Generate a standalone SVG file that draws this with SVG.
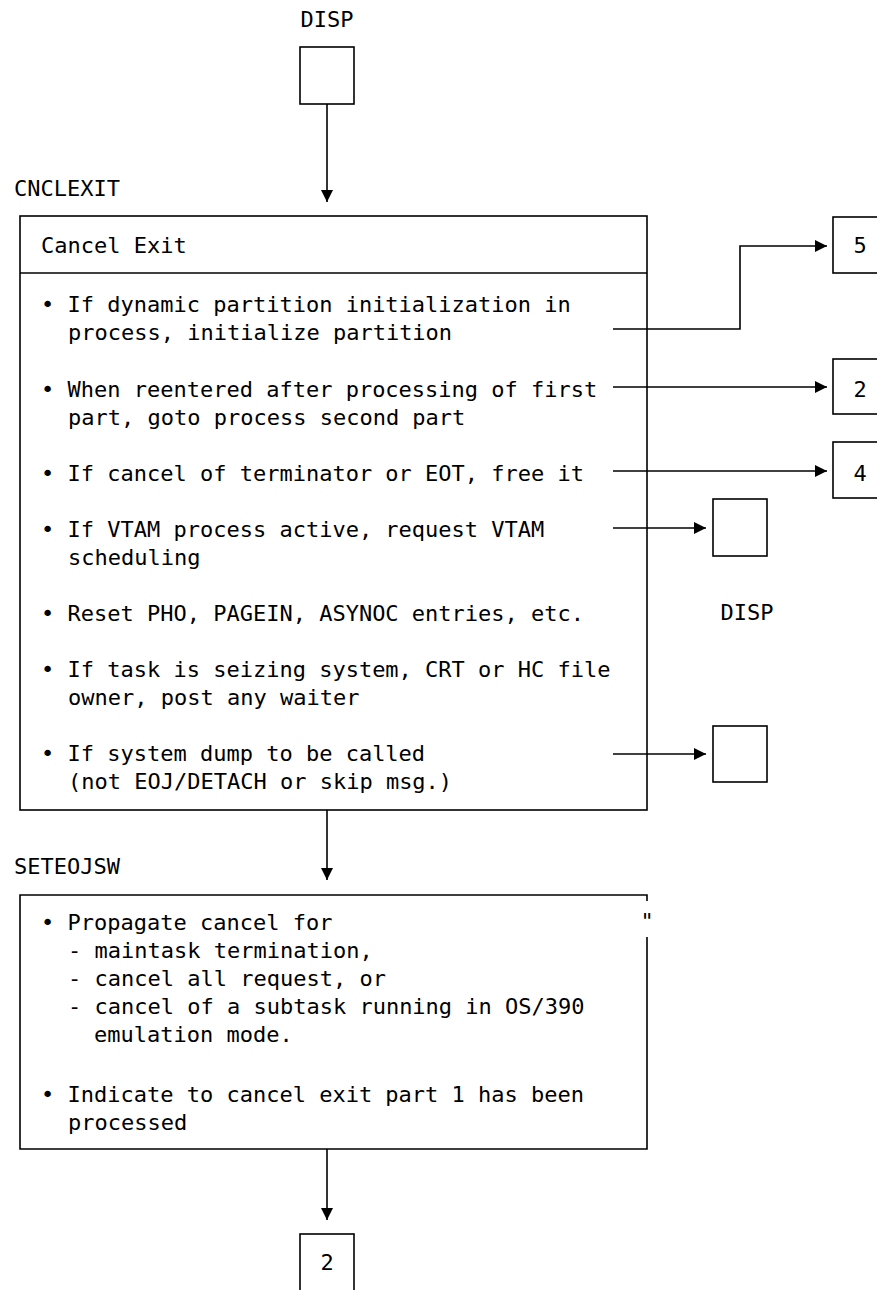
<svg xmlns="http://www.w3.org/2000/svg" width="877" height="1290" viewBox="0 0 877 1290">
<style>
text{font-family:"DejaVu Sans Mono","Liberation Mono",monospace;font-size:22px;fill:#000}
.c{text-anchor:middle}
.box{fill:#fff;stroke:#000;stroke-width:1.6}
.ln{fill:none;stroke:#000;stroke-width:1.6}
</style>
<defs>
<marker id="ah" markerWidth="12" markerHeight="12" refX="12" refY="6" orient="auto" markerUnits="userSpaceOnUse">
<path d="M0,0 L12,6 L0,12 Z" fill="#000"/>
</marker>
</defs>
<rect width="877" height="1290" fill="#fff"/>
<g id="connectors">
<path class="ln" d="M327,104 V202" marker-end="url(#ah)"/>
<path class="ln" d="M613,329 H740 V246 H827" marker-end="url(#ah)"/>
<path class="ln" d="M613,387 H827" marker-end="url(#ah)"/>
<path class="ln" d="M613,471 H827" marker-end="url(#ah)"/>
<path class="ln" d="M613,528 H706" marker-end="url(#ah)"/>
<path class="ln" d="M613,754 H706" marker-end="url(#ah)"/>
<path class="ln" d="M327,810 V880" marker-end="url(#ah)"/>
<path class="ln" d="M327,1149 V1220" marker-end="url(#ah)"/>
</g>
<g id="disp-top">
<text x="327" y="27" class="c">DISP</text>
<rect class="box" x="300" y="47" width="54" height="57"/>
</g>
<g id="cnclexit">
<text x="14" y="196">CNCLEXIT</text>
<rect x="20" y="216" width="627" height="594" fill="none" stroke="#000" stroke-width="1.6"/>
<line class="ln" x1="20" y1="273" x2="647" y2="273"/>
<text x="41" y="253">Cancel Exit</text>
<text x="41" y="312">• If dynamic partition initialization in</text>
<text x="68" y="340">process, initialize partition</text>
<text x="41" y="397">• When reentered after processing of first</text>
<text x="68" y="425">part, goto process second part</text>
<text x="41" y="481">• If cancel of terminator or EOT, free it</text>
<text x="41" y="537">• If VTAM process active, request VTAM</text>
<text x="68" y="565">scheduling</text>
<text x="41" y="621">• Reset PHO, PAGEIN, ASYNOC entries, etc.</text>
<text x="41" y="677">• If task is seizing system, CRT or HC file</text>
<text x="68" y="705">owner, post any waiter</text>
<text x="41" y="761">• If system dump to be called</text>
<text x="68" y="789">(not EOJ/DETACH or skip msg.)</text>
</g>
<g id="conn-5">
<rect class="box" x="833" y="217" width="60" height="56"/>
<text x="860" y="253" class="c">5</text>
</g>
<g id="conn-2a">
<rect class="box" x="833" y="359" width="60" height="55"/>
<text x="860" y="397" class="c">2</text>
</g>
<g id="conn-4">
<rect class="box" x="833" y="442" width="60" height="56"/>
<text x="860" y="481" class="c">4</text>
</g>
<g id="disp-vtam">
<rect class="box" x="713" y="499" width="54" height="57"/>
<text x="747" y="620" class="c">DISP</text>
</g>
<g id="dump">
<rect class="box" x="713" y="726" width="54" height="56"/>
</g>
<g id="seteojsw">
<text x="14" y="874">SETEOJSW</text>
<path class="ln" d="M647,901 V895 H20 V1149 H647 V937"/>
<text x="647" y="929" class="c">"</text>
<text x="41" y="930">• Propagate cancel for</text>
<text x="68" y="958">- maintask termination,</text>
<text x="68" y="986">- cancel all request, or</text>
<text x="68" y="1014">- cancel of a subtask running in OS/390</text>
<text x="94" y="1042">emulation mode.</text>
<text x="41" y="1102">• Indicate to cancel exit part 1 has been</text>
<text x="68" y="1130">processed</text>
</g>
<g id="conn-2b">
<rect class="box" x="300" y="1234" width="54" height="62"/>
<text x="327" y="1270" class="c">2</text>
</g>
</svg>
